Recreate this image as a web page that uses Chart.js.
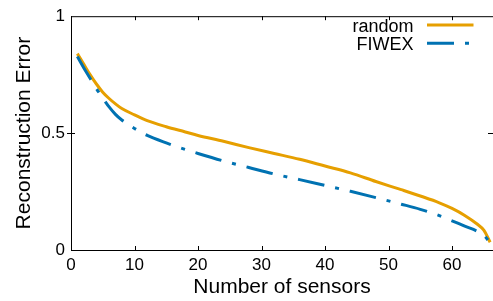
<!DOCTYPE html>
<html>
<head>
<meta charset="utf-8">
<script src="https://cdn.jsdelivr.net/npm/chart.js@4/dist/chart.umd.min.js"></script>
<style>
  html, body { margin: 0; padding: 0; background: #ffffff; overflow: hidden; }
  #wrap { width: 493px; height: 301px; position: relative; }
</style>
</head>
<body>
<div id="wrap"><canvas id="c" width="493" height="301"></canvas></div>
<script>
// ---- data ----
const sensors     = [1, 2, 3, 4, 5, 6, 7, 8, 10, 12, 15, 18, 20, 24, 28, 32, 36, 40, 44, 48, 52, 55, 58, 60, 62, 64, 65, 66];
const randomError = [0.84, 0.795, 0.75, 0.71, 0.675, 0.648, 0.625, 0.605, 0.578, 0.553, 0.527, 0.505, 0.49, 0.465, 0.438, 0.413, 0.388, 0.359, 0.33, 0.293, 0.258, 0.231, 0.202, 0.178, 0.148, 0.11, 0.085, 0.033];
const fiwexError  = [0.828, 0.78, 0.735, 0.69, 0.65, 0.612, 0.58, 0.556, 0.52, 0.49, 0.458, 0.43, 0.413, 0.381, 0.353, 0.325, 0.301, 0.276, 0.251, 0.224, 0.196, 0.174, 0.147, 0.125, 0.102, 0.08, 0.064, 0.03];
const seriesNames = ["random", "FIWEX"];
const xTicks = [0, 10, 20, 30, 40, 50, 60];
const yTicks = [0, 0.5, 1];
const xLabel = "Number of sensors";
const yLabel = "Reconstruction Error";

const FONT = "'Liberation Sans', Arial, Helvetica, sans-serif";
const ORANGE = "#E69F00";
const BLUE = "#0072B2";

const toPts = (xs, ys) => xs.map((x, i) => ({ x: x, y: ys[i] }));

// frame: top border + inward mirror ticks
const framePlugin = {
  id: "frame",
  afterDraw(chart) {
    const { ctx, chartArea: a, scales } = chart;
    const xs = scales.x, ys = scales.y;
    ctx.save();
    ctx.strokeStyle = "#000";
    ctx.lineWidth = 1;
    ctx.beginPath();
    ctx.moveTo(a.left, a.top + 0.5);
    ctx.lineTo(a.right, a.top + 0.5);
    xTicks.forEach(v => {
      if (v === 0) return;
      const px = Math.round(xs.getPixelForValue(v)) + 0.5;
      ctx.moveTo(px, a.bottom);
      ctx.lineTo(px, a.bottom - 4);
      ctx.moveTo(px, a.top);
      ctx.lineTo(px, a.top + 4);
    });
    yTicks.forEach(v => {
      if (v === 0 || v === 1) return;
      const py = Math.round(ys.getPixelForValue(v)) + 0.5;
      ctx.moveTo(a.left - 4, py);
      ctx.lineTo(a.left + 4, py);
      ctx.moveTo(a.right, py);
      ctx.lineTo(a.right - 5, py);
    });
    ctx.stroke();
    ctx.restore();
  }
};

// gnuplot-style key: right-aligned text followed by line sample
const keyPlugin = {
  id: "key",
  afterDraw(chart) {
    const { ctx } = chart;
    ctx.save();
    ctx.font = "18px " + FONT;
    ctx.textAlign = "right";
    ctx.textBaseline = "alphabetic";
    chart.data.datasets.forEach((ds, i) => {
      const base = 31.5 + i * 18.3;
      const ly = 25 + i * 18.3;
      ctx.fillStyle = "#000";
      ctx.fillText(ds.label, 413.5, base);
      ctx.strokeStyle = ds.borderColor;
      ctx.lineWidth = ds.borderWidth;
      ctx.setLineDash(ds.borderDash || []);
      ctx.beginPath();
      ctx.moveTo(427, ly);
      ctx.lineTo(473.5, ly);
      ctx.stroke();
    });
    ctx.restore();
  }
};

new Chart(document.getElementById("c"), {
  type: "line",
  data: {
    datasets: [
      {
        label: seriesNames[0],
        data: toPts(sensors, randomError),
        borderColor: ORANGE,
        backgroundColor: ORANGE,
        borderWidth: 3,
        pointRadius: 0,
        cubicInterpolationMode: "monotone",
        order: 2
      },
      {
        label: seriesNames[1],
        data: toPts(sensors, fiwexError),
        borderColor: BLUE,
        backgroundColor: BLUE,
        borderWidth: 3,
        borderDash: [27, 11, 4, 11],
        pointRadius: 0,
        cubicInterpolationMode: "monotone",
        order: 1
      }
    ]
  },
  options: {
    responsive: false,
    animation: false,
    devicePixelRatio: 1,
    layout: { padding: { top: 13, left: 0, right: 0, bottom: 0 } },
    plugins: { legend: { display: false }, tooltip: { enabled: false } },
    scales: {
      x: {
        type: "linear",
        min: 0,
        max: 66.45,
        afterFit(s) { s.height = 51; },
        afterBuildTicks(s) { s.ticks = xTicks.map(v => ({ value: v })); },
        grid: { display: true, drawOnChartArea: false, drawTicks: false },
        border: { display: true, color: "#000", width: 1 },
        ticks: {
          padding: 5,
          color: "#000",
          font: { family: FONT, size: 17 },
          maxRotation: 0,
          autoSkip: false
        },
        title: {
          display: true,
          text: xLabel,
          color: "#000",
          font: { family: FONT, size: 21, lineHeight: 1 },
          padding: { top: 0, bottom: 3 }
        }
      },
      y: {
        min: 0,
        max: 1,
        afterFit(s) { s.width = 71; },
        afterBuildTicks(s) { s.ticks = yTicks.map(v => ({ value: v })); },
        grid: { display: true, drawOnChartArea: false, drawTicks: false },
        border: { display: true, color: "#000", width: 1 },
        ticks: {
          padding: 6,
          color: "#000",
          font: { family: FONT, size: 17 },
          callback: v => String(v)
        },
        title: {
          display: true,
          text: yLabel,
          color: "#000",
          font: { family: FONT, size: 21, lineHeight: 1 },
          padding: { top: 14, bottom: 0 }
        }
      }
    }
  },
  plugins: [framePlugin, keyPlugin]
});
</script>
</body>
</html>
